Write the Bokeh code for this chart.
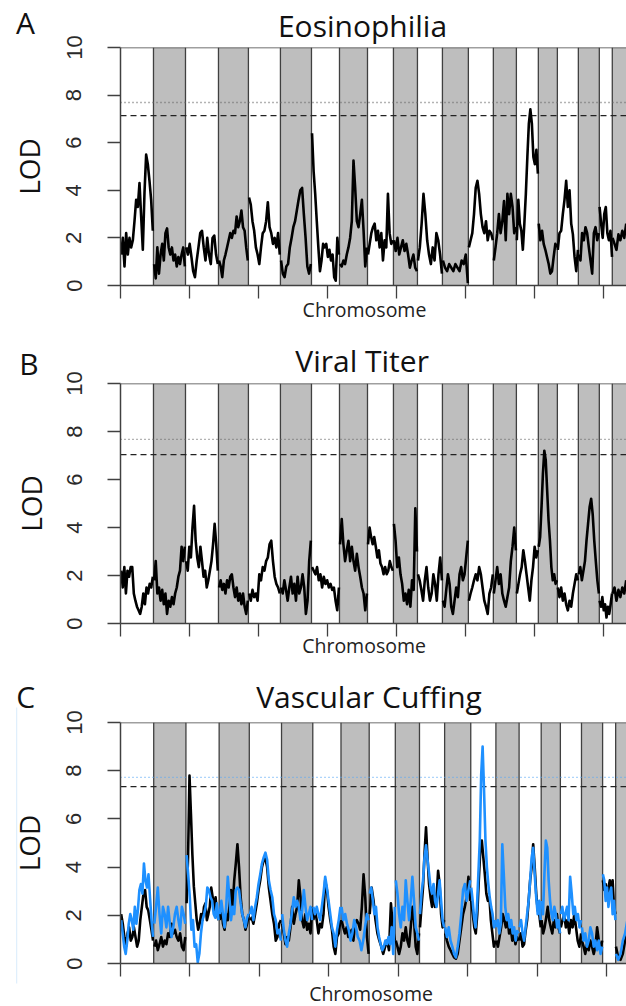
import numpy as np
from math import pi
from bokeh.plotting import figure
from bokeh.layouts import column
from bokeh.models import Range1d, FixedTicker
from bokeh.core.properties import value
from bokeh.embed import file_html
from bokeh.resources import INLINE

# ---------------- data ----------------
chrom_names = [str(i) for i in range(1, 20)] + ["X"]
chrom_len = [239, 232, 239, 217, 232, 225, 203, 203, 188, 174,
             181, 188, 181, 167, 159, 138, 152, 152, 94, 103]

x_ticks = [0, 500, 1000, 1500, 2000, 2500, 3000, 3500]
y_ticks = [0, 2, 4, 6, 8, 10]

titles = ["Eosinophilia", "Viral Titer", "Vascular Cuffing"]
letters = ["A", "B", "C"]

eos_thr_dotted, eos_thr_dashed = 7.69, 7.14
vir_thr_dotted, vir_thr_dashed = 7.67, 7.04
cuf_thr_dotted, cuf_thr_dashed = 7.72, 7.34

eos_lod = [
    [1.3, 2.0, 0.8, 2.2, 1.3, 2.0, 1.6, 1.9, 2.7, 3.6, 3.3, 4.3, 2.9, 1.5, 3.9, 5.5, 5.1, 4.4, 3.6, 2.3],
    [0.9, 0.3, 1.6, 0.5, 1.3, 1.75, 1.05, 2.2, 2.4, 1.6, 1.3, 1.6, 1.05, 1.3, 0.8, 1.2, 0.9, 1.3, 1.6, 0.8],
    [1.6, 1.3, 1.75, 1.2, 0.6, 0.35, 1.05, 1.6, 2.2, 2.3, 1.6, 1.05, 2.0, 1.3, 0.9, 2.0, 2.1, 1.3, 0.9],
    [1.05, 0.8, 0.35, 1.05, 1.3, 1.6, 1.9, 2.2, 2.0, 2.3, 2.2, 2.9, 2.45, 2.7, 3.15, 2.45, 2.3, 1.6, 1.05],
    [3.7, 3.4, 2.7, 2.3, 1.6, 1.3, 0.9, 1.6, 2.2, 2.3, 2.7, 3.5, 2.45, 2.2, 1.75, 2.0, 1.6, 2.2, 1.3],
    [1.05, 0.5, 0.35, 0.8, 0.9, 1.6, 2.0, 2.45, 2.7, 3.15, 3.6, 4.0, 4.1, 3.0, 2.0, 0.8, 0.5, 0.9],
    [6.4, 4.8, 3.85, 2.7, 1.6, 0.6, 1.05, 1.75, 1.6, 1.75, 1.2, 1.5, 1.05, 1.3, 0.35, 0.2, 2.0, 1.3],
    [0.9, 0.8, 1.05, 0.9, 1.3, 1.6, 2.0, 2.7, 5.25, 4.1, 2.7, 2.45, 3.0, 3.6, 2.3, 0.8, 1.6],
    [1.3, 1.75, 2.2, 2.45, 2.6, 1.9, 2.3, 1.6, 2.2, 1.05, 1.9, 1.6, 3.85, 2.2, 1.75, 1.9],
    [1.9, 1.45, 2.0, 1.3, 1.6, 1.9, 1.45, 1.75, 1.3, 0.75, 1.05, 1.3, 0.75, 0.6],
    [1.05, 1.6, 2.6, 3.85, 3.0, 1.9, 1.3, 0.9, 1.6, 1.05, 2.2, 1.9, 1.3, 0.5],
    [1.05, 0.75, 0.6, 0.9, 0.75, 0.6, 0.9, 0.75, 0.6, 1.05, 0.9, 1.3, 0.1],
    [1.6, 1.9, 2.2, 3.0, 4.1, 4.4, 3.85, 3.0, 2.45, 2.2, 2.7, 1.9, 2.3, 2.2, 1.9],
    [1.05, 1.6, 2.2, 3.0, 2.2, 2.7, 3.55, 1.9, 3.85, 3.0, 3.85, 3.3, 2.2, 2.45],
    [1.9, 3.6, 2.6, 2.3, 1.5, 2.6, 3.85, 5.4, 6.8, 7.4, 6.8, 5.4, 5.1, 5.7, 4.7],
    [2.6, 1.9, 2.3, 1.75, 1.5, 1.2, 0.9, 0.5, 0.6, 1.2, 1.75, 1.6],
    [1.5, 2.2, 2.3, 3.0, 3.6, 4.4, 3.3, 4.0, 2.6, 2.15, 1.2, 0.6, 1.5],
    [1.3, 1.05, 2.2, 1.9, 2.45, 2.2, 1.6, 1.05, 0.5, 2.2, 2.45, 1.9, 2.2],
    [3.3, 2.6, 2.0, 3.0, 3.3, 2.2, 1.9, 2.3, 1.2],
    [2.0, 1.75, 1.5, 2.15, 1.9, 2.3, 2.0, 2.6],
]

viral_lod = [
    [2.2, 1.5, 2.35, 1.25, 2.2, 1.95, 2.35, 2.35, 1.25, 0.95, 0.7, 0.55, 0.4, 0.7, 1.25, 0.8, 1.5, 1.25, 1.65, 1.5, 1.95],
    [1.8, 2.6, 1.25, 1.5, 0.95, 1.4, 0.8, 1.25, 0.4, 0.95, 0.7, 1.1, 0.8, 1.25, 1.5, 1.95, 2.2, 3.2, 2.6, 3.2],
    [2.6, 2.2, 3.2, 2.75, 4.0, 4.9, 3.45, 2.75, 2.35, 3.2, 2.6, 1.95, 2.2, 1.5, 1.8, 2.2, 2.6, 3.3, 4.15, 3.3, 2.2],
    [1.5, 1.8, 1.4, 1.65, 1.25, 1.8, 1.5, 1.95, 2.05, 1.5, 1.1, 1.5, 0.95, 1.25, 0.8, 1.25, 0.7, 0.4, 0.95],
    [1.25, 0.95, 1.4, 1.1, 1.25, 0.95, 2.05, 1.8, 2.35, 2.2, 2.6, 2.75, 3.3, 3.45, 2.6, 1.95, 1.65, 1.5, 1.25],
    [1.5, 1.25, 1.8, 1.4, 0.95, 1.5, 1.95, 1.25, 1.65, 0.95, 1.95, 1.25, 1.5, 2.05, 1.5, 0.4, 0.95, 2.6, 3.45],
    [2.35, 2.2, 2.05, 2.35, 1.8, 2.05, 1.5, 1.95, 1.65, 1.8, 1.5, 1.65, 1.4, 1.5, 0.95, 0.55, 1.5],
    [3.3, 4.35, 3.3, 2.6, 3.05, 3.45, 2.6, 3.2, 2.6, 2.2, 2.9, 2.35, 1.95, 1.5, 1.25, 0.55, 1.25],
    [3.3, 4.0, 3.6, 3.3, 3.6, 3.2, 2.75, 3.05, 2.5, 2.35, 2.05, 2.35, 2.05, 2.2, 2.6, 2.35, 2.2],
    [4.15, 3.45, 2.35, 2.75, 2.05, 1.65, 0.95, 1.25, 0.8, 1.4, 0.7, 1.8, 1.4, 4.8, 3.0],
    [2.05, 1.8, 1.4, 0.95, 1.8, 2.35, 1.5, 0.95, 1.25, 2.05, 1.65, 0.95, 2.05, 2.75, 1.8],
    [0.95, 0.7, 1.4, 2.05, 1.65, 0.7, 0.4, 0.95, 1.5, 1.1, 2.05, 2.35, 1.8, 2.05, 2.75, 3.45],
    [0.95, 1.25, 1.5, 1.8, 2.05, 1.8, 2.35, 2.05, 1.5, 0.95, 0.7, 0.4, 1.25, 1.5, 2.05],
    [1.25, 1.8, 2.35, 1.65, 2.05, 1.25, 0.95, 0.7, 1.1, 1.5, 2.6, 3.2, 4.0, 3.05],
    [1.25, 1.65, 2.05, 2.35, 3.05, 2.6, 2.05, 1.5, 0.95, 1.8, 2.35, 3.2, 2.75, 3.05],
    [3.2, 3.6, 4.85, 6.25, 7.2, 6.8, 5.55, 4.3, 3.45, 2.35, 1.8, 2.05, 1.65, 1.8],
    [1.5, 1.1, 1.5, 0.95, 1.25, 0.8, 0.55, 0.95, 0.7, 1.25, 1.65, 2.05, 1.8],
    [2.05, 2.35, 1.8, 2.2, 2.6, 3.45, 4.15, 4.85, 5.2, 4.55, 3.45, 2.6, 1.8, 1.25],
    [0.95, 0.7, 1.1, 0.55, 0.8, 0.25, 0.7, 0.4, 0.8, 1.25],
    [1.25, 1.5, 0.95, 1.4, 1.1, 1.5, 1.25, 1.8],
]

cuff_black_lod = [
    [2.05, 1.65, 1.1, 0.7, 1.25, 1.5, 0.95, 1.1, 1.5, 1.1, 0.7, 0.95, 1.8, 2.35, 2.9, 3.05, 2.35, 2.2, 1.8, 1.4, 0.95],
    [0.7, 0.95, 0.55, 0.8, 1.1, 0.7, 0.95, 0.8, 1.25, 1.1, 1.65, 1.25, 1.4, 1.1, 0.95, 1.25, 0.7, 0.55, 1.1],
    [2.5, 4.4, 7.8, 6.2, 4.5, 3.2, 2.5, 1.8, 1.4, 1.65, 2.05, 1.8, 2.35, 2.5, 1.8, 2.05, 2.35, 3.15, 2.75, 2.2, 2.75, 2.05, 1.8],
    [1.8, 2.35, 1.65, 1.4, 2.05, 1.8, 2.35, 3.05, 2.35, 3.45, 4.15, 4.95, 4.0, 2.75, 2.05, 1.8, 1.4, 1.65, 2.05],
    [1.8, 1.9, 1.65, 2.05, 2.5, 3.05, 3.45, 4.0, 4.3, 4.35, 4.0, 3.15, 2.6, 2.05, 1.65, 0.95, 1.1, 1.65, 1.8],
    [1.65, 1.25, 0.8, 1.1, 0.95, 1.5, 2.35, 1.65, 2.05, 2.35, 3.45, 2.75, 1.8, 1.5, 2.05, 1.4, 1.65, 1.25, 2.35],
    [1.8, 2.2, 1.8, 1.25, 1.65, 1.5, 2.05, 3.45, 3.05, 2.35, 1.8, 1.4, 0.7, 0.4, 1.1, 1.25, 1.8],
    [1.8, 1.5, 1.25, 1.5, 1.1, 1.25, 1.4, 0.95, 1.65, 1.8, 1.65, 1.4, 2.35, 3.7, 2.75, 1.1, 0.4],
    [2.05, 3.15, 2.6, 1.8, 1.25, 0.95, 0.7, 0.4, 0.7, 0.95, 0.55, 2.5, 1.5, 0.95],
    [0.95, 0.7, 0.4, 0.7, 1.25, 0.95, 1.5, 0.95, 0.7, 1.5, 2.35, 1.8, 0.7, 0.4, 1.25],
    [1.5, 2.35, 3.15, 4.55, 5.65, 4.4, 3.3, 2.75, 2.35, 3.05, 2.35, 2.75, 3.85, 3.3, 2.05, 1.5, 1.8],
    [1.25, 0.95, 0.7, 0.55, 0.4, 0.25, 0.2, 0.4, 0.95, 1.5, 2.05, 2.35, 2.75, 3.6, 2.6],
    [2.6, 2.05, 1.5, 1.25, 2.05, 3.45, 4.7, 5.1, 4.4, 3.7, 2.9, 2.6, 2.75, 1.8, 1.25, 0.7, 0.95],
    [0.95, 0.7, 1.1, 1.5, 2.05, 1.8, 1.5, 1.9, 1.25, 1.5, 0.95, 1.25, 0.8, 1.1, 0.95],
    [0.95, 1.25, 0.7, 0.8, 1.35, 1.8, 2.6, 3.45, 4.0, 4.95, 4.0, 2.9, 2.2, 2.05, 1.5],
    [1.8, 1.25, 1.5, 1.9, 2.35, 1.8, 1.5, 1.25, 1.8, 1.5, 2.05, 1.5, 1.25],
    [1.5, 1.8, 2.05, 1.5, 1.8, 1.25, 1.8, 1.5, 2.05, 1.5, 0.95, 0.7, 1.25],
    [0.95, 0.7, 0.4, 0.8, 0.55, 0.95, 0.7, 0.4, 0.7, 1.5, 0.95, 0.55, 0.95],
    [3.45, 3.05, 3.3, 2.75, 3.15, 3.45, 2.75, 3.45, 2.35, 2.05],
    [0.7, 0.25, 0.15, 0.4, 0.95, 1.25, 1.8],
]

cuff_blue_lod = [
    [1.8, 1.25, 0.7, 0.4, 0.95, 1.65, 2.05, 1.8, 1.4, 2.35, 1.65, 2.2, 3.05, 3.3, 2.9, 4.15, 3.45, 3.15, 3.7, 2.75, 1.8, 1.1],
    [1.65, 2.35, 3.15, 2.05, 1.25, 2.35, 2.05, 1.5, 2.35, 1.65, 1.1, 1.5, 2.05, 2.35, 1.8, 1.4, 2.35, 2.05, 1.65],
    [4.5, 3.7, 2.75, 1.4, 1.8, 0.7, 0.8, 0.05, 0.4, 1.25, 1.8, 2.05, 2.35, 3.15, 3.05, 2.75, 2.6, 2.05, 1.9, 2.5, 1.8],
    [2.05, 2.6, 2.05, 1.5, 2.35, 3.6, 2.75, 1.8, 2.35, 2.05, 3.05, 3.15, 3.05, 2.5, 2.05, 1.8, 1.5, 1.9, 2.05],
    [2.05, 2.35, 1.8, 2.35, 2.75, 3.3, 3.7, 4.15, 4.4, 4.6, 4.3, 3.45, 3.05, 2.75, 2.05, 1.8, 1.25, 1.4, 0.95],
    [2.05, 1.4, 0.95, 0.7, 1.25, 1.65, 2.2, 2.75, 2.35, 2.6, 2.35, 1.8, 2.2, 3.05, 2.35, 1.8, 2.05, 2.35, 1.8],
    [2.35, 2.05, 2.35, 2.05, 1.8, 2.35, 2.9, 3.6, 3.15, 2.6, 2.05, 1.5, 1.25, 0.7, 1.4, 1.8, 2.35],
    [2.35, 1.8, 2.05, 1.65, 1.4, 0.95, 1.25, 1.8, 1.5, 1.1, 0.95, 0.55, 0.95, 1.5, 2.05, 1.8],
    [2.9, 3.15, 2.6, 2.05, 2.35, 1.5, 1.1, 0.8, 0.55, 0.7, 0.95, 0.8, 1.1, 0.8, 1.5, 0.4, 2.35],
    [3.45, 2.9, 2.05, 1.5, 2.35, 1.8, 3.45, 2.6, 1.8, 2.6, 3.6, 2.6, 1.5, 1.25, 0.95],
    [2.05, 2.9, 3.45, 4.4, 4.9, 4.3, 3.75, 3.15, 2.9, 3.3, 2.6, 2.35, 2.9, 3.45, 2.6, 1.8, 1.5],
    [1.5, 1.1, 1.5, 0.95, 0.7, 0.4, 0.25, 0.7, 1.25, 2.05, 3.05, 3.3, 2.6, 3.05, 3.45],
    [3.15, 2.6, 1.9, 1.5, 2.35, 3.7, 5.1, 7.85, 9.0, 7.2, 5.1, 4.0, 3.3, 2.75, 2.35, 2.05, 1.5, 1.8],
    [1.5, 1.8, 1.25, 1.65, 4.95, 3.7, 2.35, 1.8, 2.05, 1.5, 1.8, 1.25, 1.5, 0.95, 1.35, 1.25],
    [1.5, 1.8, 1.25, 0.95, 1.5, 2.05, 2.6, 3.45, 4.4, 4.8, 3.7, 2.75, 2.05, 2.6, 1.8],
    [2.6, 2.05, 3.7, 5.1, 4.8, 3.45, 2.6, 2.05, 1.8, 2.35, 2.05, 1.5, 1.8, 1.25],
    [2.05, 2.35, 1.8, 2.05, 2.35, 1.8, 3.6, 2.9, 2.05, 2.35, 1.8, 2.05, 1.5, 1.8],
    [1.5, 0.95, 1.25, 0.7, 0.95, 1.5, 1.25, 0.7, 0.95, 0.55, 0.95, 0.4, 0.7],
    [3.7, 3.45, 2.6, 3.15, 2.35, 2.9, 3.15, 2.05, 2.6, 1.8],
    [0.4, 0.15, 0.4, 0.95, 1.25, 1.8, 2.35],
]

# ---------------- layout constants (pixels, relative to each panel's top) ----------------
W = 626
GEOM = [
    dict(h=330, left=120, top=47, fb=285, x_end=3667,
         letter=(25, 22), title=(362, 25), lod_x=28, chrom=(364, 308.5), edge_line=None),
    dict(h=330, left=117, top=53, fb=293, x_end=3667,
         letter=(25, 33), title=(360, 30), lod_x=27, chrom=(362, 315), edge_line=None),
    dict(h=346, left=119, top=62, fb=303, x_end=3642,
         letter=(24, 36), title=(368, 35.5), lod_x=27, chrom=(370, 332.5), edge_line=(15, 47, 323)),
]

LINE_C = "#404040"
GRAY = "#bebebe"
BLUE = "#1e90ff"
TXT_FONT = "Open Sans"

starts = np.concatenate([[0], np.cumsum(chrom_len)[:-1]]).astype(float)
ends = starts + np.array(chrom_len, dtype=float)


def chrom_xy(values_by_chrom):
    xs, ys = [], []
    for i, vals in enumerate(values_by_chrom):
        n = len(vals)
        s, L = starts[i], chrom_len[i]
        xs.append(list(np.linspace(s + 0.02 * L, s + 0.98 * L, n)))
        ys.append(list(vals))
    return xs, ys


def make_panel(g, title, letter, series, thr_dotted, thr_dashed, dotted_color):
    fw = W - g["left"]
    fh = g["fb"] - g["top"]

    def to_data(px, py):
        return (px - g["left"]) / fw * g["x_end"], (g["fb"] - py) / fh * 10.0

    p = figure(width=W, height=g["h"], x_range=Range1d(0, g["x_end"]), y_range=Range1d(0, 10),
               output_backend="svg", toolbar_location=None,
               min_border_left=g["left"], min_border_right=0,
               min_border_top=g["top"], min_border_bottom=g["h"] - g["fb"])
    p.outline_line_color = None
    p.background_fill_color = "white"
    p.border_fill_color = "white"
    p.xgrid.visible = False
    p.ygrid.visible = False

    # chromosome bands
    n_chr = len(chrom_len)
    band_l = [starts[i] for i in range(n_chr) if i % 2 == 1]
    band_r = [(g["x_end"] + 50) if i == n_chr - 1 else ends[i] for i in range(n_chr) if i % 2 == 1]
    p.quad(left=band_l, right=band_r, bottom=0, top=10, fill_color=GRAY, line_color=None)

    # chromosome separators and top border
    sep = list(starts[1:])
    p.segment(x0=sep, x1=sep, y0=0, y1=10, line_color=LINE_C, line_width=1.3)
    p.segment(x0=[0], x1=[g["x_end"] + 50], y0=[10], y1=[10], line_color=LINE_C, line_width=1.5)

    # thresholds
    p.segment(x0=[0], x1=[g["x_end"] + 50], y0=[thr_dotted], y1=[thr_dotted],
              line_color=dotted_color, line_width=1.3, line_dash="1 3")
    p.segment(x0=[0], x1=[g["x_end"] + 50], y0=[thr_dashed], y1=[thr_dashed],
              line_color="#222222", line_width=1.3, line_dash="6 4")

    # LOD traces
    for vals, col in series:
        xs, ys = chrom_xy(vals)
        p.multi_line(xs, ys, line_color=col, line_width=2.6, line_join="round")

    # axes
    xa = p.xaxis[0]
    xa.ticker = FixedTicker(ticks=x_ticks)
    xa.major_label_overrides = {t: "" for t in x_ticks}
    xa.major_label_text_font_size = "8px"
    xa.major_tick_out = 13
    xa.major_tick_in = 0
    xa.minor_tick_out = 0
    xa.minor_tick_in = 0
    xa.axis_line_color = LINE_C
    xa.axis_line_width = 1.5
    xa.major_tick_line_color = LINE_C
    xa.major_tick_line_width = 1.3

    ya = p.yaxis[0]
    ya.ticker = FixedTicker(ticks=y_ticks)
    ya.major_label_orientation = "vertical"
    ya.major_label_text_font = "Liberation Sans"
    ya.major_label_text_font_size = "22px"
    ya.major_label_text_color = "#2a2a2a"
    ya.major_label_standoff = 26
    ya.major_tick_out = 13
    ya.major_tick_in = 0
    ya.minor_tick_out = 0
    ya.minor_tick_in = 0
    ya.axis_line_color = LINE_C
    ya.axis_line_width = 1.5
    ya.major_tick_line_color = LINE_C
    ya.major_tick_line_width = 1.3

    # faint scan-edge line seen at the left of panel C
    if g["edge_line"] is not None:
        ex, ey0, ey1 = g["edge_line"]
        x0d, y0d = to_data(ex, ey0)
        _, y1d = to_data(ex, ey1)
        p.segment(x0=[x0d], x1=[x0d], y0=[y0d], y1=[y1d], line_color="#d9ebfb",
                  line_width=1, level="overlay")

    # texts outside the frame: text glyphs on the overlay level (not clipped)
    lx, ly = to_data(*g["letter"])
    tx, ty = to_data(*g["title"])
    cx, cy = to_data(*g["chrom"])
    ox, oy = to_data(g["lod_x"], (g["top"] + g["fb"]) / 2)
    p.text(x=[lx, tx], y=[ly, ty], text=[letter, title], text_font=value(TXT_FONT),
           text_font_size=value("30px"), text_align="center", text_baseline="middle",
           text_color="#111111", level="overlay")
    p.text(x=[cx], y=[cy], text=["Chromosome"], text_font=value(TXT_FONT),
           text_font_size=value("19.5px"), text_align="center", text_baseline="middle",
           text_color="#222222", level="overlay")
    p.text(x=[ox], y=[oy], text=["LOD"], text_font=value(TXT_FONT),
           text_font_size=value("28px"), text_align="center", text_baseline="middle",
           angle=pi / 2, text_color="#111111", level="overlay")
    return p


pA = make_panel(GEOM[0], titles[0], letters[0], [(eos_lod, "black")],
                eos_thr_dotted, eos_thr_dashed, "#666666")
pB = make_panel(GEOM[1], titles[1], letters[1], [(viral_lod, "black")],
                vir_thr_dotted, vir_thr_dashed, "#666666")
pC = make_panel(GEOM[2], titles[2], letters[2], [(cuff_black_lod, "black"), (cuff_blue_lod, BLUE)],
                cuf_thr_dotted, cuf_thr_dashed, "#5aa8f5")

layout = column(pA, pB, pC, spacing=0)

with open("out.html", "w") as f:
    f.write(file_html(layout, INLINE))
